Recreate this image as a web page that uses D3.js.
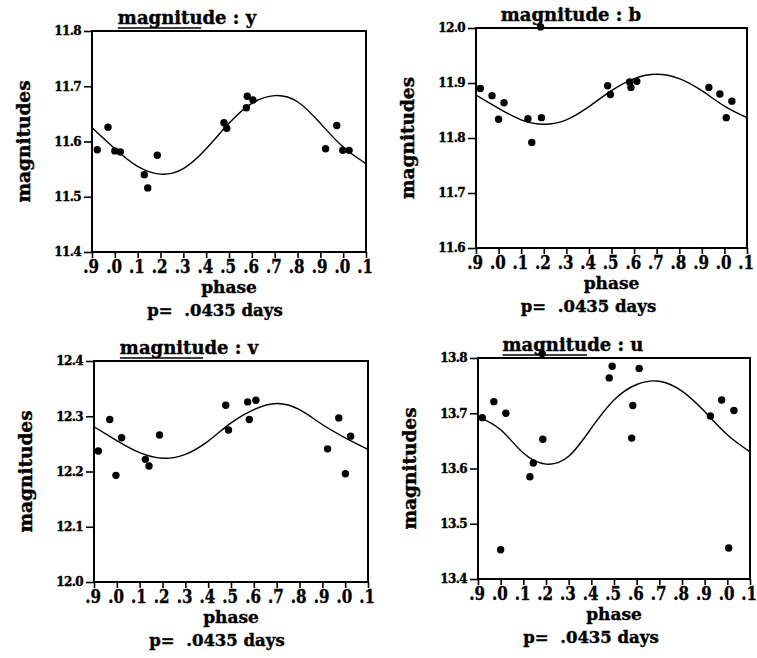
<!DOCTYPE html>
<html>
<head>
<meta charset="utf-8">
<script src="https://cdn.jsdelivr.net/npm/d3@7"></script>
<style>
  body { margin: 0; background: #fff; }
  svg { display: block; }
  text { font-family: "DejaVu Serif", serif; font-weight: bold; fill: #000; stroke: #000; stroke-width: 0.4px; }
</style>
</head>
<body>
<svg id="svg1" width="757" height="658"></svg>
<script>
// phase axis, runs from .9 (of the previous cycle) to .1 (of the next one)
var phaseTicks = [-0.1, 0, 0.1, 0.2, 0.3, 0.4, 0.5, 0.6, 0.7, 0.8, 0.9, 1.0, 1.1];
var phaseTickLabels = ['.9', '.0', '.1', '.2', '.3', '.4', '.5', '.6', '.7', '.8', '.9', '.0', '.1'];

var yPhase = [-0.077, -0.030, 0.000, 0.024, 0.129, 0.144, 0.186, 0.478, 0.490, 0.576, 0.580, 0.605, 0.923, 0.972, 0.998, 1.026];
var yMag   = [11.585, 11.626, 11.583, 11.581, 11.540, 11.516, 11.575, 11.634, 11.624, 11.661, 11.682, 11.675, 11.587, 11.629, 11.584, 11.584];

var bPhase = [-0.081, -0.029, 0.000, 0.024, 0.130, 0.147, 0.186, 0.190, 0.483, 0.495, 0.580, 0.586, 0.612, 0.931, 0.980, 1.008, 1.033];
var bMag   = [11.890, 11.877, 11.834, 11.864, 11.835, 11.792, 12.002, 11.837, 11.895, 11.879, 11.902, 11.892, 11.903, 11.892, 11.880, 11.837, 11.867];

var vPhase = [-0.081, -0.031, -0.004, 0.021, 0.125, 0.141, 0.187, 0.477, 0.489, 0.573, 0.580, 0.609, 0.923, 0.972, 1.001, 1.024];
var vMag   = [12.237, 12.294, 12.193, 12.261, 12.222, 12.210, 12.266, 12.320, 12.275, 12.326, 12.294, 12.329, 12.241, 12.297, 12.196, 12.264];

var uPhase = [-0.081, -0.030, 0.000, 0.023, 0.129, 0.144, 0.183, 0.186, 0.479, 0.492, 0.578, 0.583, 0.611, 0.925, 0.975, 1.006, 1.029];
var uMag   = [13.692, 13.721, 13.453, 13.700, 13.585, 13.610, 13.808, 13.653, 13.764, 13.785, 13.655, 13.714, 13.781, 13.695, 13.724, 13.456, 13.705];

// fitted light curves, sampled at the phase ticks
var yFit = [11.625, 11.587, 11.555, 11.541, 11.551, 11.587, 11.633, 11.669, 11.683, 11.672, 11.633, 11.590, 11.560];
var bFit = [11.878, 11.854, 11.833, 11.825, 11.833, 11.857, 11.886, 11.908, 11.916, 11.908, 11.886, 11.858, 11.837];
var vFit = [12.281, 12.256, 12.234, 12.224, 12.231, 12.255, 12.288, 12.312, 12.323, 12.312, 12.285, 12.261, 12.240];
var uFit = [13.694, 13.670, 13.628, 13.608, 13.622, 13.673, 13.724, 13.752, 13.758, 13.740, 13.703, 13.661, 13.630];

// magnitude ranges and ticks
var yTicks = [11.4, 11.5, 11.6, 11.7, 11.8];
var bTicks = [11.6, 11.7, 11.8, 11.9, 12.0];
var vTicks = [12.0, 12.1, 12.2, 12.3, 12.4];
var uTicks = [13.4, 13.5, 13.6, 13.7, 13.8];

var titles = ['magnitude : y', 'magnitude : b', 'magnitude : v', 'magnitude : u'];
var periodLabel = 'p=  .0435 days';

// one row per panel, layout kept here (not in the data arrays)
var panels = [
    {title: titles[0], phase: yPhase, mag: yMag, fit: yFit, ticks: yTicks, left: 92,  top: 31,  w: 274, h: 221, underline: true,  pShift: -14},
    {title: titles[1], phase: bPhase, mag: bMag, fit: bFit, ticks: bTicks, left: 476, top: 28,  w: 271, h: 220, underline: false, pShift: -23},
    {title: titles[2], phase: vPhase, mag: vMag, fit: vFit, ticks: vTicks, left: 94,  top: 361, w: 274, h: 221, underline: true,  pShift: -14},
    {title: titles[3], phase: uPhase, mag: uMag, fit: uFit, ticks: uTicks, left: 478, top: 358, w: 272, h: 221, underline: true,  pShift: -23}
];

var svg = d3.select('#svg1');

panels.forEach(function(p) {

    var x = d3.scaleLinear()
        .domain([-0.1, 1.1])
        .range([0, p.w]);

    var y = d3.scaleLinear()
        .domain([p.ticks[0], p.ticks[p.ticks.length - 1]])
        .range([p.h, 0]);

    var g = svg.append('g')
        .attr('transform', 'translate(' + p.left + ',' + p.top + ')');

    // left axis, ticks pointing outwards
    var yAxis = g.append('g')
        .call(d3.axisLeft(y)
            .tickValues(p.ticks)
            .tickFormat(d3.format('.1f'))
            .tickSize(8)
            .tickPadding(3));

    yAxis.select('.domain').remove();
    yAxis.selectAll('line').attr('stroke', '#000').attr('stroke-width', 1.6);
    yAxis.selectAll('text')
        .attr('letter-spacing', -0.6)
        .style('font-size', '12px');

    // bottom axis
    var xAxis = g.append('g')
        .attr('transform', 'translate(0,' + p.h + ')')
        .call(d3.axisBottom(x)
            .tickValues(phaseTicks)
            .tickFormat(function(d, i) { return phaseTickLabels[i]; })
            .tickSize(6)
            .tickPadding(2));

    xAxis.select('.domain').remove();
    xAxis.selectAll('line').attr('stroke', '#000').attr('stroke-width', 1.6);
    xAxis.selectAll('text')
        .attr('dx', -1.5)
        .attr('transform', 'scale(0.84,1)')   // tall but narrow digits, like the original
        .style('font-size', '18px');

    // frame
    g.append('rect')
        .attr('width', p.w)
        .attr('height', p.h)
        .attr('fill', 'none')
        .attr('stroke', '#000')
        .attr('stroke-width', 2);

    // fitted curve
    var line = d3.line()
        .x(function(d, i) { return x(phaseTicks[i]); })
        .y(function(d) { return y(d); })
        .curve(d3.curveNatural);

    g.append('path')
        .datum(p.fit)
        .attr('d', line)
        .attr('fill', 'none')
        .attr('stroke', '#000')
        .attr('stroke-width', 1.4);

    // observations
    g.selectAll('.obs')
        .data(p.mag)
        .enter()
        .append('circle')
        .attr('class', 'obs')
        .attr('cx', function(d, i) { return x(p.phase[i]); })
        .attr('cy', function(d) { return y(d); })
        .attr('r', 3.7)
        .attr('fill', '#000');

    // title
    var title = g.append('text')
        .attr('x', 95)
        .attr('y', -7)
        .attr('text-anchor', 'middle')
        .style('font-size', '18px')
        .text(p.title);

    if (p.underline) {
        var bb = title.node().getBBox();
        g.append('line')
            .attr('x1', bb.x)
            .attr('x2', bb.x + bb.width * 0.6)
            .attr('y1', -3)
            .attr('y2', -3)
            .attr('stroke', '#000')
            .attr('stroke-width', 1.4);
    }

    // y label
    g.append('text')
        .attr('transform', 'translate(-62,' + (p.h / 2) + ') rotate(-90)')
        .attr('text-anchor', 'middle')
        .style('font-size', '18.5px')
        .text('magnitudes');

    // x label and period
    g.append('text')
        .attr('x', p.w / 2)
        .attr('y', p.h + 41)
        .attr('text-anchor', 'middle')
        .style('font-size', '17px')
        .text('phase');

    g.append('text')
        .attr('x', p.w / 2 + p.pShift)
        .attr('y', p.h + 64)
        .attr('text-anchor', 'middle')
        .style('font-size', '16.5px')
        .style('white-space', 'pre')
        .text(periodLabel);
});
</script>
</body>
</html>
